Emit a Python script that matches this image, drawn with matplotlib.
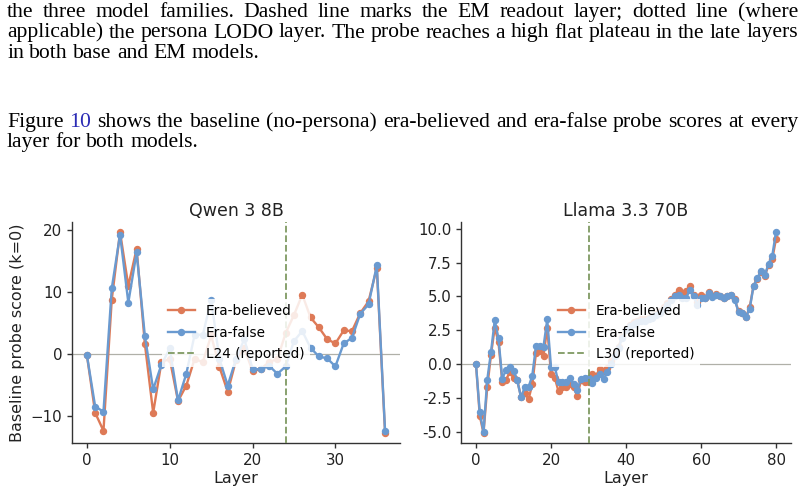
import matplotlib
matplotlib.use("Agg")
import matplotlib.pyplot as plt

W, H, DPI = 805, 491, 100

# ---------------- data ----------------
qwen_layers = list(range(37))
qwen_believed = [-0.2, -9.5, -12.4, 8.8, 19.7, 11.0, 17.0, 1.6, -9.5, -1.3,
                 -0.8, -7.6, -5.1, -0.8, -1.3, 3.0, -2.1, -6.1, -1.0, 1.0,
                 -2.8, -2.4, -1.3, -0.8, 3.4, 6.3, 9.6, 5.9, 4.3, 2.4,
                 1.7, 3.8, 3.7, 6.6, 8.5, 13.9, -12.8]
qwen_false = [-0.2, -8.5, -9.3, 10.6, 19.3, 8.3, 16.4, 2.9, -5.7, -1.7,
              0.9, -7.5, -3.2, 3.1, 3.1, 8.8, -0.8, -5.1, -0.8, 2.4,
              -2.4, -2.5, -1.9, -3.2, -2.0, 2.1, 3.7, 1.0, -0.4, -0.7,
              -2.0, 1.7, 2.6, 6.5, 8.0, 14.3, -12.5]

llama_layers = list(range(81))
llama_believed = [0.0, -3.8, -5.1, -1.7, 0.7, 2.7, 1.6, -1.3, -1.15, -0.6,
                  -1.0, -1.2, -2.4, -2.1, -2.6, -1.5, 0.85, 1.0, 0.6, 2.7,
                  -0.75, -1.0, -2.0, -1.7, -1.7, -1.5, -1.7, -2.35, -1.2, -1.3,
                  -1.35, -0.75, -0.85, -0.35, -0.5, -0.25, 0.2, 0.7, 1.3, 2.0,
                  2.6, 2.9, 3.1, 3.2, 3.3, 3.3, 3.4, 3.5, 3.7, 3.9,
                  4.2, 4.5, 4.8, 5.1, 5.5, 5.2, 5.4, 5.8, 5.1, 4.6,
                  5.1, 4.9, 5.35, 5.0, 5.15, 5.05, 4.9, 5.05, 5.1, 4.8,
                  3.9, 3.8, 3.5, 4.2, 5.8, 6.3, 6.8, 6.5, 7.3, 7.75,
                  9.25]
llama_false = [0.0, -3.55, -5.0, -1.15, 0.9, 3.25, 1.9, -1.1, -0.4, -0.2,
               -0.5, -1.2, -2.45, -1.7, -1.7, -0.85, 1.35, 1.35, 1.3, 3.3,
               -0.2, -0.2, -1.35, -1.3, -1.3, -1.05, -1.5, -1.9, -1.1, -1.0,
               -1.0, -1.4, -1.0, -0.75, -1.1, -0.6, 0.0, 0.6, 1.2, 1.9,
               2.5, 2.8, 3.0, 3.1, 3.2, 3.2, 3.3, 3.4, 3.6, 3.8,
               4.1, 4.4, 4.7, 5.0, 5.1, 4.85, 4.9, 5.45, 5.0, 4.4,
               4.9, 4.85, 5.25, 4.95, 5.1, 5.0, 4.85, 5.0, 5.1, 4.75,
               3.85, 3.75, 3.5, 4.1, 5.75, 6.35, 6.85, 6.55, 7.4, 8.0,
               9.75]

qwen_reported = 24
llama_reported = 30

series_labels = ["Era-believed", "Era-false"]
titles = ["Qwen 3 8B", "Llama 3.3 70B"]
qwen_yticks = [-10, 0, 10, 20]
qwen_xticks = [0, 10, 20, 30]
llama_yticks = [-5.0, -2.5, 0.0, 2.5, 5.0, 7.5, 10.0]
llama_xticks = [0, 20, 40, 60, 80]

para1 = [
    ("the three model families.  Dashed line marks the EM readout layer; dotted line (where", True),
    ("applicable) the persona LODO layer. The probe reaches a high flat plateau in the late layers", True),
    ("in both base and EM models.", False),
]
para2 = [
    ("Figure 10 shows the baseline (no-persona) era-believed and era-false probe scores at every", True),
    ("layer for both models.", False),
]

# ---------------- style ----------------
ORANGE = "#de7a57"
BLUE = "#6a9ad0"
GREEN = "#7f9a62"
ZERO = "#b0b0a8"
SPINE = "#333333"
LINK = "#2b2bb5"
SERIF = "Liberation Serif"
FS_TEXT = 15.6

fig = plt.figure(figsize=(W / DPI, H / DPI), dpi=DPI)
renderer = fig.canvas.get_renderer()


def tw(s):
    t = fig.text(0, 0, s, fontsize=FS_TEXT, family=SERIF)
    w = t.get_window_extent(renderer).width
    t.remove()
    return w


def draw_line(line, y_px, justify, x0=7, x1=798):
    words = line.split()
    widths = [tw(w) for w in words]
    if justify and len(words) > 1:
        gap = (x1 - x0 - sum(widths)) / (len(words) - 1)
    else:
        gap = tw("a a") - tw("aa")
    x = x0
    for w, wd in zip(words, widths):
        col = LINK if w == "10" else "black"
        fig.text(x / W, 1 - y_px / H, w, fontsize=FS_TEXT, family=SERIF,
                 color=col, ha="left", va="baseline")
        x += wd + gap


for i, (line, j) in enumerate(para1):
    draw_line(line, 17 + i * 20.5, j)
for i, (line, j) in enumerate(para2):
    draw_line(line, 127 + i * 20.5, j)

ax1 = fig.add_axes([72 / W, 1 - 443.3 / H, (400 - 72) / W, (443.3 - 222) / H])
ax2 = fig.add_axes([461 / W, 1 - 443.3 / H, (791 - 461) / W, (443.3 - 222) / H])

panels = [
    (ax1, qwen_layers, qwen_believed, qwen_false, qwen_reported, titles[0], qwen_xticks, qwen_yticks),
    (ax2, llama_layers, llama_believed, llama_false, llama_reported, titles[1], llama_xticks, llama_yticks),
]

for ax, xs, yb, yf, rep, title, xt, yt in panels:
    ax.axhline(0, color=ZERO, lw=0.9, zorder=1)
    ax.plot(xs, yb, "-o", color=ORANGE, lw=1.7, ms=4.3, label=series_labels[0], zorder=2)
    ax.plot(xs, yf, "-o", color=BLUE, lw=1.7, ms=4.3, label=series_labels[1], zorder=3)
    ax.axvline(rep, color=GREEN, ls="--", lw=1.3, label=f"L{rep} (reported)", zorder=4)
    ax.set_xticks(xt)
    ax.set_yticks(yt)
    for s in ["top", "right"]:
        ax.spines[s].set_visible(False)
    for s in ["left", "bottom"]:
        ax.spines[s].set_color(SPINE)
        ax.spines[s].set_linewidth(1.0)
    ax.tick_params(labelsize=10.8, color=SPINE, width=1.0, length=3.5, labelcolor="#222222")
    ax.set_title(title, fontsize=12.5, pad=4.5, color="#222222")
    ax.set_xlabel("Layer", fontsize=11.5, color="#222222", labelpad=2)
    leg = ax.legend(loc="center", fontsize=9.8, frameon=True, framealpha=0.85,
                    edgecolor="none", fancybox=False, labelspacing=0.55)

ax2.set_yticklabels([f"{v:.1f}" for v in llama_yticks])
ax1.set_ylabel("Baseline probe score (k=0)", fontsize=11.5, color="#222222")

fig.savefig("out.png", dpi=DPI)
